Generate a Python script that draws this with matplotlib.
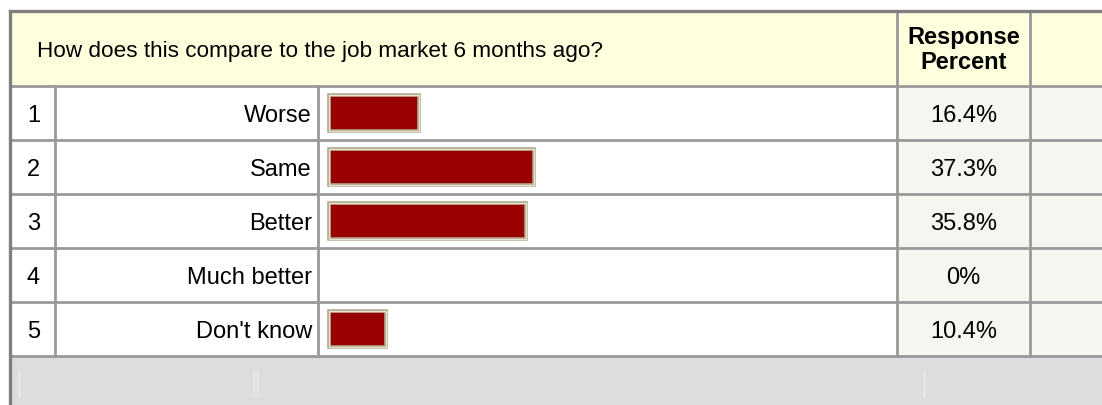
import matplotlib.pyplot as plt
from matplotlib.patches import Rectangle

plt.rcParams['font.family'] = ['Liberation Sans', 'DejaVu Sans']

# Survey data
question = "How does this compare to the job market 6 months ago?"
numbers = ["1", "2", "3", "4", "5"]
answers = ["Worse", "Same", "Better", "Much better", "Don't know"]
percents = [16.4, 37.3, 35.8, 0, 10.4]
percent_labels = ["16.4%", "37.3%", "35.8%", "0%", "10.4%"]

W, H = 1102, 405
fig = plt.figure(figsize=(W / 100, H / 100), dpi=100)
ax = fig.add_axes([0, 0, 1, 1])
ax.set_xlim(0, W)
ax.set_ylim(H, 0)
ax.axis("off")

# Table layout (pixels)
left, top = 10, 11
head_bot = 86
row_h = 54
n = len(answers)
rows_bot = head_bot + row_h * n
cols = [left, 55, 318, 897, 1030, W + 5]

grid = "#999999"
yellow = "#ffffdd"
pale = "#f6f5ef"
fs_head = 16.2
fs_row = 17

# Backgrounds
ax.add_patch(Rectangle((left, top), W - left + 5, head_bot - top, color=yellow, zorder=0))
ax.add_patch(Rectangle((left, head_bot), cols[3] - left, rows_bot - head_bot, color="white", zorder=0))
ax.add_patch(Rectangle((cols[3], head_bot), W - cols[3] + 5, rows_bot - head_bot, color=pale, zorder=0))
ax.add_patch(Rectangle((left, rows_bot), W - left + 5, H - rows_bot, color="#dddddd", zorder=0))

# faint separators in footer
for x in [19, 254, 257, 924]:
    ax.plot([x, x], [rows_bot + 13, H - 8], color="#eeeeee", lw=0.8, zorder=1)

# Grid lines
for i in range(n + 1):
    y = head_bot + i * row_h
    ax.plot([left, W + 5], [y, y], color=grid, lw=2, zorder=2)
for x in cols[1:3]:
    ax.plot([x, x], [head_bot, rows_bot], color=grid, lw=2, zorder=2)
for x in cols[3:5]:
    ax.plot([x, x], [top, rows_bot], color=grid, lw=2, zorder=2)

# Outer border
ax.plot([left, left], [top, H + 2], color="#7f7f7f", lw=2.4, zorder=3, solid_capstyle="projecting")
ax.plot([left, W + 5], [top, top], color="#7f7f7f", lw=2.4, zorder=3, solid_capstyle="projecting")

# Header text
ax.text(37, (top + head_bot) / 2 + 3, question, fontsize=fs_head, ha="left", va="center")
ax.text((cols[3] + cols[4]) / 2, (top + head_bot) / 2 + 1.5, "Response\nPercent",
        fontsize=fs_row, fontweight="bold", ha="center", va="center", linespacing=1.15)

# Row texts
for i in range(n):
    yc = head_bot + i * row_h + row_h / 2 + 3
    ax.text((cols[0] + cols[1]) / 2 + 1, yc, numbers[i], fontsize=fs_row, ha="center", va="center")
    ax.text(cols[2] - 6, yc, answers[i], fontsize=fs_row, ha="right", va="center")
    ax.text((cols[3] + cols[4]) / 2, yc, percent_labels[i], fontsize=fs_row, ha="center", va="center")

# Bars in their own axes, scaled in percent
bar_x0 = 329
px_per_pct = 5.5
bx = fig.add_axes([cols[2] / W, (H - rows_bot) / H, (cols[3] - cols[2]) / W, (rows_bot - head_bot) / H])
bx.set_xlim(-(bar_x0 - cols[2]) / px_per_pct, (cols[3] - bar_x0) / px_per_pct)
bx.set_ylim(n - 0.5, -0.5)
bx.axis("off")
bx.patch.set_alpha(0)

edges = ["#b0a890" if p > 0 else "none" for p in percents]
bx.barh(range(n), percents, height=0.68, color="#990000", edgecolor=edges, linewidth=2.6, zorder=2)
inner = ["#e8e2cc" if p > 0 else "none" for p in percents]
bx.barh(range(n), percents, height=0.68, color="none", edgecolor=inner, linewidth=1.0, zorder=3)

fig.savefig("out.png", dpi=100)
